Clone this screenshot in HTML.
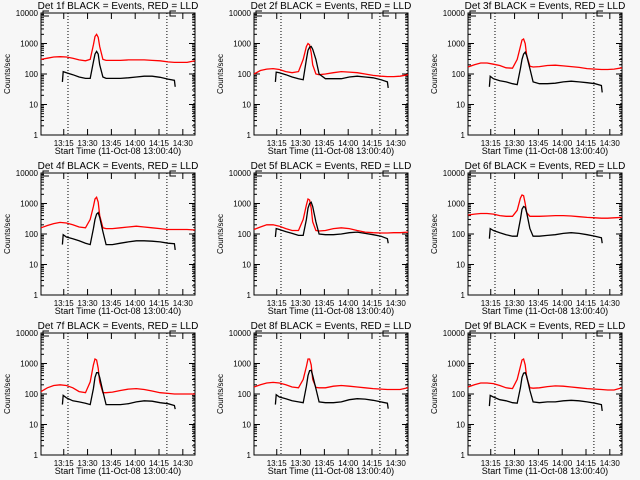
<!DOCTYPE html>
<html><head><meta charset="utf-8"><style>
html,body{margin:0;padding:0;background:#f7f7f7;}
svg{display:block;font-family:"Liberation Sans",sans-serif;}
</style></head><body>
<svg id="chart" width="640" height="480" viewBox="0 0 640 480">
<rect width="640" height="480" fill="#f7f7f7"/>
</svg>
<script>
// minutes after 13:00:40
const redTimes = [0,4,8,12,16,20,24,28,31,33,34,35,36,37,39,41,45,50,55,60,65,70,75,80,84,88,92,97];
const blackTimes = [13.5,14,16,20,24,28,31,33,34,35,36,37,39,41,45,50,55,60,65,70,75,80,84,84.5];
const detLabels = ["1f","2f","3f","4f","5f","6f","7f","8f","9f"];
const redSeries = [
 [300,330,360,370,360,330,290,270,300,900,1700,2000,1600,800,300,280,280,280,290,290,290,280,270,250,240,240,240,270],
 [100,130,145,150,140,120,110,120,300,800,1000,900,500,200,100,95,100,110,120,115,110,100,90,85,82,82,85,95],
 [170,200,230,230,210,190,160,155,300,800,1300,1400,1000,400,180,170,175,190,195,185,175,165,150,145,140,140,145,160],
 [160,190,220,240,230,200,170,160,300,800,1400,1600,1100,400,160,150,150,160,170,180,170,160,150,140,140,140,140,135],
 [140,170,200,200,180,150,130,130,300,900,1400,1300,700,250,130,125,130,150,160,150,130,115,110,108,108,110,110,115],
 [420,450,470,470,450,400,380,380,600,1500,1900,1800,1000,500,380,380,380,390,400,400,390,370,350,340,330,330,340,350],
 [120,160,190,200,190,160,120,110,250,900,1400,1300,700,250,110,110,115,130,145,150,140,125,110,105,100,100,100,100],
 [170,200,230,240,230,200,170,160,300,800,1400,1400,900,300,165,160,160,180,190,180,170,160,150,145,140,140,140,160],
 [170,200,230,230,220,190,160,150,300,800,1300,1400,900,350,160,155,160,175,185,180,170,160,150,145,140,135,135,160]
];
const blackSeries = [
 [55,120,110,95,80,72,72,250,450,550,450,200,80,72,72,72,75,80,85,85,78,68,62,38],
 [55,115,110,95,80,70,65,300,600,750,800,650,300,100,70,70,70,80,85,80,75,65,55,35],
 [38,85,70,60,55,48,45,150,300,450,520,400,150,55,48,48,50,55,58,55,52,48,42,25],
 [45,95,80,70,60,50,45,150,300,450,500,350,120,45,45,50,55,60,60,58,55,50,48,30],
 [80,150,140,120,105,90,90,300,700,1000,1100,800,250,100,95,95,100,110,115,105,95,85,70,50],
 [70,150,130,110,95,85,85,300,650,800,750,500,150,85,85,90,95,105,110,105,95,85,75,50],
 [45,90,75,60,55,50,45,150,350,500,500,350,120,45,45,45,48,55,60,58,52,48,42,32],
 [45,95,80,70,60,55,52,180,400,580,600,400,150,55,52,52,55,65,70,68,62,55,50,33],
 [40,90,80,65,60,52,50,160,350,480,500,380,130,55,52,55,55,60,62,60,55,50,45,28]
];
const xTickLabels = ["13:15","13:30","13:45","14:00","14:15","14:30"];
const xTickTimes = [14.33,29.33,44.33,59.33,74.33,89.33];
const yTickLabels = ["1","10","100","1000","10000"];
const yTickValues = [1,10,100,1000,10000];
const dottedTimes = [17,79.3,96.3];

const NS="http://www.w3.org/2000/svg";
const svg=document.getElementById('chart');
function mk(tag,attrs,parent){const e=document.createElementNS(NS,tag);for(const k in attrs)e.setAttribute(k,attrs[k]);(parent||svg).appendChild(e);return e;}
const colX=[41,254,468], rowY=[13,173,333], PW=154, PH=122, TMAX=97;

for(let p=0;p<9;p++){
  const x0=colX[p%3], y0=rowY[Math.floor(p/3)];
  const g=mk('g',{});
  
  
  const xs=t=>x0+t/TMAX*PW;
  const ys=v=>y0+PH-(Math.log10(v)/4)*PH;
  const frame=mk('rect',{x:x0,y:y0,width:PW,height:PH,fill:'none',stroke:'#000','stroke-width':1},g);
  
  
  const title=mk('text',{x:x0+77,y:y0-4,'font-size':10,'text-anchor':'middle',fill:'#000'},g);
  title.textContent='Det '+detLabels[p]+' BLACK = Events, RED = LLD';
  
  
  for(let i=0;i<yTickValues.length;i++){
    const y=ys(yTickValues[i]);
    mk('line',{x1:x0,x2:x0+6,y1:y,y2:y,stroke:'#000'},g);
    mk('line',{x1:x0+PW,x2:x0+PW-6,y1:y,y2:y,stroke:'#000'},g);
    const t=mk('text',{x:x0-3,y:y+3,'font-size':8,'text-anchor':'end',fill:'#000'},g);
    t.textContent=yTickLabels[i];
    
    
    if(i<yTickValues.length-1){for(let m=2;m<10;m++){const ym=ys(yTickValues[i]*m);
      mk('line',{x1:x0,x2:x0+3,y1:ym,y2:ym,stroke:'#000'},g);
      mk('line',{x1:x0+PW,x2:x0+PW-3,y1:ym,y2:ym,stroke:'#000'},g);}}
  }
  for(let i=0;i<xTickTimes.length;i++){
    const x=xs(xTickTimes[i]);
    mk('line',{x1:x,x2:x,y1:y0+PH,y2:y0+PH-6,stroke:'#000'},g);
    mk('line',{x1:x,x2:x,y1:y0,y2:y0+6,stroke:'#000'},g);
    const t=mk('text',{x:x,y:y0+PH+11,'font-size':8,'text-anchor':'middle',fill:'#000'},g);
    t.textContent=xTickLabels[i];
    
    
  }
  const xt=mk('text',{x:x0+77,y:y0+PH+19,'font-size':9,'text-anchor':'middle',fill:'#000'},g);
  xt.textContent='Start Time (11-Oct-08 13:00:40)';
  
  
  const yt=mk('text',{x:0,y:0,'font-size':8,'text-anchor':'middle',fill:'#000',transform:`translate(${x0-31},${y0+61}) rotate(-90)`},g);
  yt.textContent='Counts/sec';
  
  
  for(const dt of dottedTimes){const x=xs(dt);
    const l=mk('line',{x1:x,x2:x,y1:y0,y2:y0+PH,stroke:'#000','stroke-dasharray':'1,2'},g);
    
    }
  for(const bx of [x0+2,x0+129]){
    mk('path',{d:`M${bx+6} ${y0-2}H${bx}V${y0+3}H${bx+6}`,fill:'none',stroke:'#000'},g);}
  const rp=mk('polyline',{points:redTimes.map((t,i)=>xs(t).toFixed(1)+','+ys(redSeries[p][i]).toFixed(1)).join(' '),fill:'none',stroke:'#ff0000','stroke-width':1.3},g);
  
  
  const bp=mk('polyline',{points:blackTimes.map((t,i)=>xs(t).toFixed(1)+','+ys(blackSeries[p][i]).toFixed(1)).join(' '),fill:'none',stroke:'#000','stroke-width':1.3},g);
  
  
}
</script>
</body></html>
